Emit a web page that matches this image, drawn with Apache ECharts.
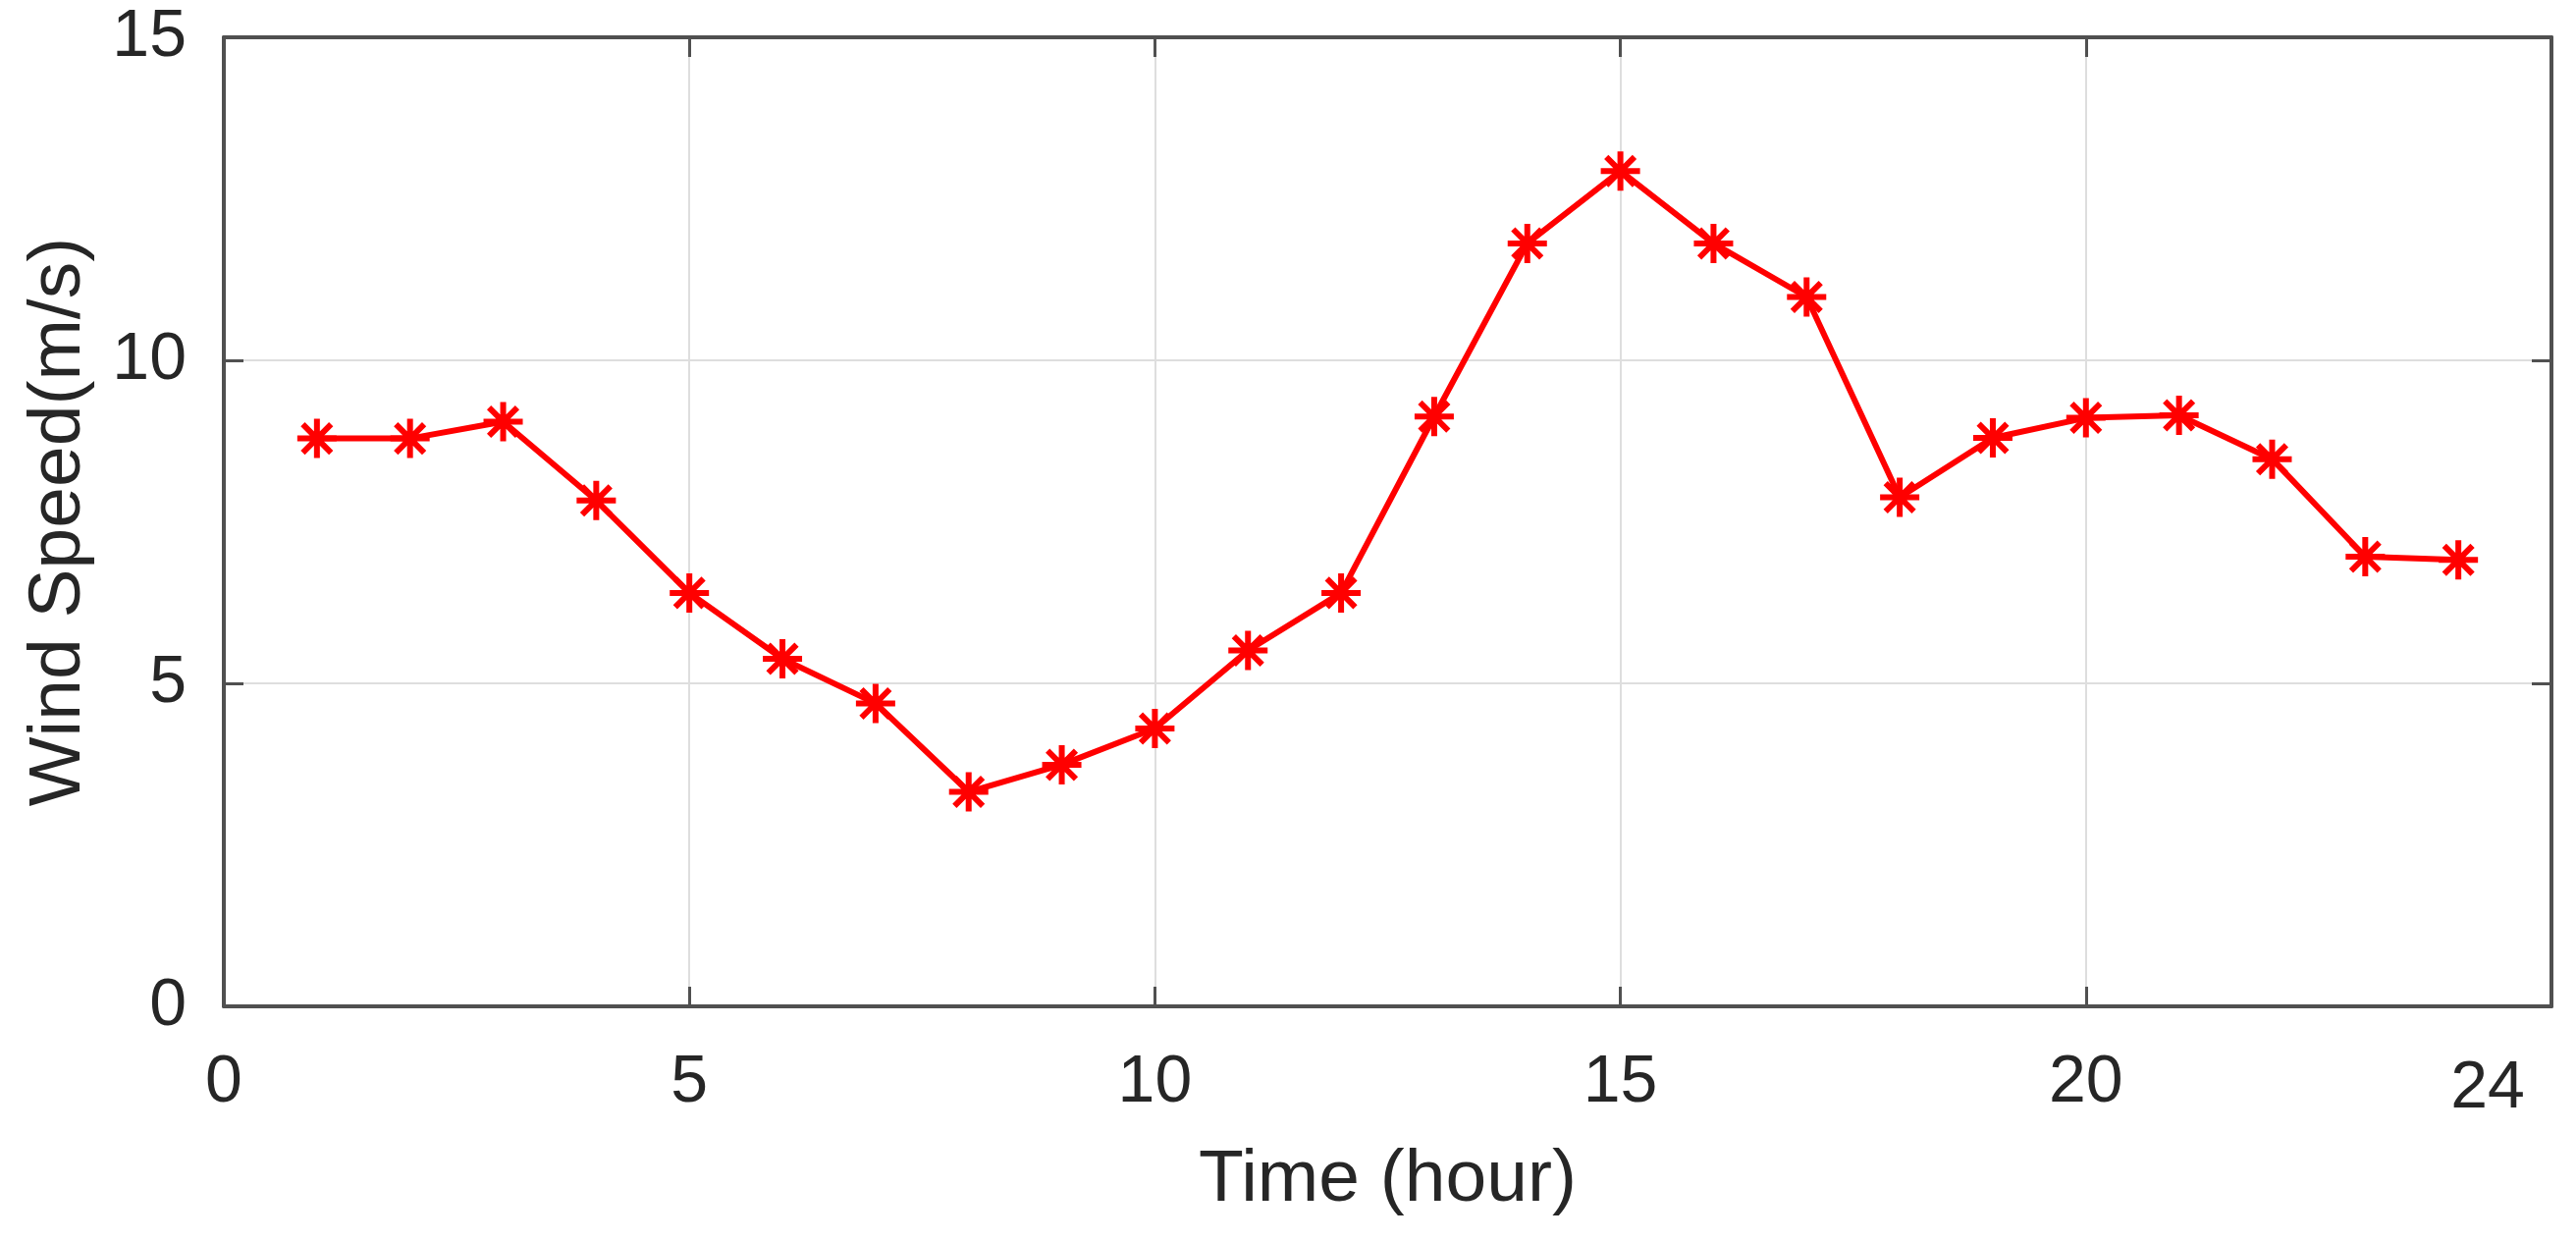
<!DOCTYPE html>
<html>
<head>
<meta charset="utf-8">
<title>Wind Speed</title>
<script src="https://cdn.jsdelivr.net/npm/echarts@6/dist/echarts.min.js"></script>
<style>
  html, body { margin: 0; padding: 0; background: #fff; }
  #chart { width: 2624px; height: 1264px; }
</style>
</head>
<body>
<div id="chart"></div>
<script>
  // hourly wind speed
  const hours = [1, 2, 3, 4, 5, 6, 7, 8, 9, 10, 11, 12, 13, 14, 15, 16, 17, 18, 19, 20, 21, 22, 23, 24]
  const windSpeed = [8.79, 8.79, 9.05, 7.83, 6.40, 5.38, 4.69, 3.32, 3.74, 4.30, 5.51, 6.40,
    9.13, 11.81, 12.93, 11.81, 10.98, 7.88, 8.80, 9.11, 9.15, 8.47, 6.96, 6.91]
  const xTicks = [0, 5, 10, 15, 20]
  const extraXLabel = [24]

  const FONT = '"Liberation Sans", Arial, Helvetica, sans-serif'
  const TEXT = '#262626'
  const AXIS = '#505050'
  const GRID = '#dedede'

  // MATLAB style '*' marker: plus + cross
  const d = 0.72
  const asterisk = 'path://M0 -1 L0 1 M-1 0 L1 0 M' + (-d) + ' ' + (-d) + ' L' + d + ' ' + d +
    ' M' + (-d) + ' ' + d + ' L' + d + ' ' + (-d)

  const chart = echarts.init(document.getElementById('chart'))

  const boxAxis = {
    type: 'value',
    axisLine: {show: true, onZero: false, lineStyle: {color: AXIS, width: 4}},
    axisTick: {show: true, inside: true, length: 20, lineStyle: {color: AXIS, width: 3}},
    axisLabel: {show: false},
    splitLine: {show: false}
  }

  chart.setOption({
    animation: false,
    backgroundColor: '#fff',
    grid: {left: 228, right: 25, top: 38, bottom: 239, containLabel: false},
    xAxis: [
      Object.assign({}, boxAxis, {
        position: 'bottom',
        min: 0, max: 25, interval: 5,
        name: 'Time (hour)',
        nameLocation: 'middle',
        nameGap: 140,
        nameTextStyle: {fontFamily: FONT, fontSize: 75, color: TEXT},
        axisLabel: {
          show: true, margin: 44, fontFamily: FONT, fontSize: 68, color: TEXT,
          formatter: v => (xTicks.indexOf(v) >= 0 ? String(v) : '')
        },
        splitLine: {show: true, lineStyle: {color: GRID, width: 2}}
      }),
      Object.assign({}, boxAxis, {position: 'top', min: 0, max: 25, interval: 5})
    ],
    yAxis: [
      Object.assign({}, boxAxis, {
        position: 'left',
        min: 0, max: 15, interval: 5,
        name: 'Wind Speed(m/s)',
        nameLocation: 'middle',
        nameGap: 130,
        nameTextStyle: {fontFamily: FONT, fontSize: 75, color: TEXT},
        axisLabel: {show: true, margin: 38, fontFamily: FONT, fontSize: 68, color: TEXT},
        splitLine: {show: true, lineStyle: {color: GRID, width: 2}}
      }),
      Object.assign({}, boxAxis, {position: 'right', min: 0, max: 15, interval: 5})
    ],
    series: [{
      type: 'line',
      xAxisIndex: 0,
      yAxisIndex: 0,
      data: hours.map((h, i) => [h, windSpeed[i]]),
      lineStyle: {color: '#ff0000', width: 6},
      symbol: asterisk,
      symbolSize: 40,
      showAllSymbol: true,
      itemStyle: {color: '#ff0000', borderColor: '#ff0000', borderWidth: 6},
      z: 5
    }]
  })

  // the lone "24" text under the axis end
  const graphics = extraXLabel.map(v => {
    const p = chart.convertToPixel({xAxisIndex: 0, yAxisIndex: 0}, [v, 0])
    return {
      type: 'text',
      x: p[0] - 8,
      y: p[1] + 50,
      style: {text: String(v), fontFamily: FONT, fontSize: 68, fill: TEXT, align: 'left', verticalAlign: 'top'}
    }
  })
  chart.setOption({graphic: graphics})
</script>
</body>
</html>
